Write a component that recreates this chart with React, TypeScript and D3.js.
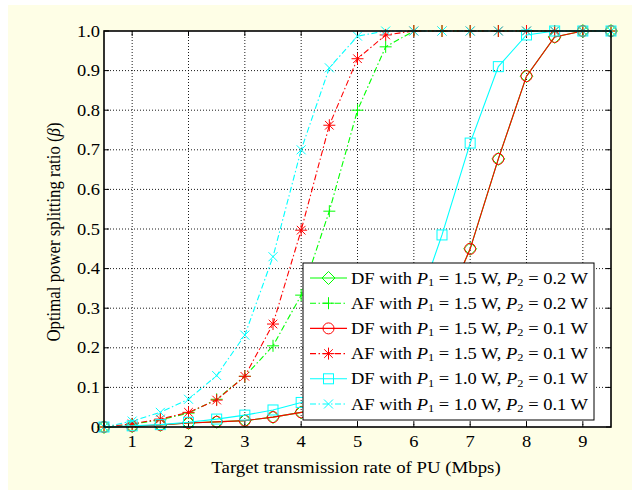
import React from "react";
import * as d3 from "d3";

// Target rate of the primary user (Mbps) at which beta was evaluated
const rates = [0.5, 1, 1.5, 2, 2.5, 3, 3.5, 4, 4.5, 5, 5.5, 6, 6.5, 7, 7.5, 8, 8.5, 9, 9.5];

// Optimal power splitting ratio for each scheme
const dfP15P02 = [0, 0.002, 0.005, 0.01, 0.013, 0.016, 0.025, 0.037, 0.05, 0.075, 0.11, 0.165, 0.285, 0.45, 0.677, 0.886, 0.985, 1, 1];
const afP15P02 = [0, 0.007, 0.018, 0.035, 0.07, 0.128, 0.205, 0.333, 0.545, 0.8, 0.96, 1, 1, 1, 1, 1, 1, 1, 1];
const dfP15P01 = [0, 0.002, 0.005, 0.01, 0.013, 0.016, 0.025, 0.037, 0.05, 0.075, 0.11, 0.165, 0.285, 0.45, 0.677, 0.886, 0.985, 1, 1];
const afP15P01 = [0, 0.008, 0.02, 0.037, 0.068, 0.128, 0.26, 0.497, 0.762, 0.93, 0.99, 1, 1, 1, 1, 1, 1, 1, 1];
const dfP10P01 = [0, 0.003, 0.006, 0.012, 0.02, 0.03, 0.043, 0.062, 0.09, 0.13, 0.19, 0.28, 0.485, 0.717, 0.91, 0.99, 1, 1, 1];
const afP10P01 = [0, 0.015, 0.037, 0.07, 0.13, 0.232, 0.43, 0.7, 0.907, 0.987, 1, 1, 1, 1, 1, 1, 1, 1, 1];

const xTicks = [1, 2, 3, 4, 5, 6, 7, 8, 9];
const yTicks = [0, 0.1, 0.2, 0.3, 0.4, 0.5, 0.6, 0.7, 0.8, 0.9, 1.0];

type Marker = "diamond" | "plus" | "circle" | "star" | "square" | "cross";

interface Series {
  scheme: string;
  p1: string;
  p2: string;
  values: number[];
  color: string;
  dashed: boolean;
  marker: Marker;
}

const series: Series[] = [
  { scheme: "DF", p1: "1.5", p2: "0.2", values: dfP15P02, color: "#00ff00", dashed: false, marker: "diamond" },
  { scheme: "AF", p1: "1.5", p2: "0.2", values: afP15P02, color: "#00ff00", dashed: true, marker: "plus" },
  { scheme: "DF", p1: "1.5", p2: "0.1", values: dfP15P01, color: "#ff0000", dashed: false, marker: "circle" },
  { scheme: "AF", p1: "1.5", p2: "0.1", values: afP15P01, color: "#ff0000", dashed: true, marker: "star" },
  { scheme: "DF", p1: "1.0", p2: "0.1", values: dfP10P01, color: "#00ffff", dashed: false, marker: "square" },
  { scheme: "AF", p1: "1.0", p2: "0.1", values: afP10P01, color: "#00ffff", dashed: true, marker: "cross" },
];

const W = 632;
const H = 490;
const plot = { left: 104, right: 611, top: 31, bottom: 427 };
const font = "'Liberation Serif', 'Times New Roman', serif";
const dashDot = "6,2.5,1.5,2.5";
// glyphs in this figure are a little wider than the typeface's natural proportions
const stretch = 1.12;

function MarkerGlyph({ kind, x, y, color }: { kind: Marker; x: number; y: number; color: string }) {
  const common = { fill: "none", stroke: color, strokeWidth: 1 };
  switch (kind) {
    case "diamond":
      return <path d={`M${x},${y - 6.5}L${x + 6.5},${y}L${x},${y + 6.5}L${x - 6.5},${y}Z`} {...common} />;
    case "circle":
      return <circle cx={x} cy={y} r={5.5} {...common} />;
    case "square":
      return <rect x={x - 5} y={y - 5} width={10} height={10} {...common} />;
    case "plus":
      return <path d={`M${x - 6},${y}H${x + 6}M${x},${y - 6}V${y + 6}`} {...common} />;
    case "cross":
      return <path d={`M${x - 4.5},${y - 4.5}L${x + 4.5},${y + 4.5}M${x - 4.5},${y + 4.5}L${x + 4.5},${y - 4.5}`} {...common} />;
    case "star":
      return (
        <path
          d={`M${x - 6},${y}H${x + 6}M${x},${y - 6}V${y + 6}M${x - 4.3},${y - 4.3}L${x + 4.3},${y + 4.3}M${x - 4.3},${y + 4.3}L${x + 4.3},${y - 4.3}`}
          {...common}
        />
      );
  }
}

function LegendLabel({ s, x, y }: { s: Series; x: number; y: number }) {
  return (
    <text
      transform={`translate(${x},${y}) scale(${stretch},1)`}
      fontFamily={font}
      fontSize={16.5}
      fill="#000"
      dominantBaseline="central"
    >
      <tspan>{s.scheme} with </tspan>
      <tspan fontStyle="italic">P</tspan>
      <tspan fontSize={11} dy={4}>1</tspan>
      <tspan dy={-4}> = {s.p1} W, </tspan>
      <tspan fontStyle="italic">P</tspan>
      <tspan fontSize={11} dy={4}>2</tspan>
      <tspan dy={-4}> = {s.p2} W</tspan>
    </text>
  );
}

export default function App() {
  const x = d3.scaleLinear().domain([0.5, 9.5]).range([plot.left, plot.right]);
  const y = d3.scaleLinear().domain([0, 1]).range([plot.bottom, plot.top]);

  const line = d3
    .line<number>()
    .x((_, i) => x(rates[i]))
    .y((v) => y(v));

  const legend = { left: 303, top: 263, right: 594, bottom: 420 };
  const rowH = 25.2;
  const row0 = 278;

  return (
    <div style={{ position: "absolute", left: 0, top: 0 }}>
      <svg width={W} height={H} style={{ display: "block" }}>
        <rect x={0} y={0} width={W} height={H} fill="#ffffff" />
        <rect x={8} y={5} width={W - 8} height={H - 5} fill="#fefee6" />
        <rect x={plot.left} y={plot.top} width={plot.right - plot.left} height={plot.bottom - plot.top} fill="#ffffff" />

        {/* dotted grid */}
        <g stroke="#000" strokeWidth={0.9} strokeDasharray="1,2">
          {xTicks.map((t) => (
            <line key={`gx${t}`} x1={x(t)} x2={x(t)} y1={plot.top} y2={plot.bottom} />
          ))}
          {yTicks.slice(1, -1).map((t) => (
            <line key={`gy${t}`} x1={plot.left} x2={plot.right} y1={y(t)} y2={y(t)} />
          ))}
        </g>

        {/* inward ticks on all four sides */}
        <g stroke="#000" strokeWidth={1}>
          {xTicks.map((t) => (
            <g key={`tx${t}`}>
              <line x1={x(t)} x2={x(t)} y1={plot.bottom} y2={plot.bottom - 5} />
              <line x1={x(t)} x2={x(t)} y1={plot.top} y2={plot.top + 5} />
            </g>
          ))}
          {yTicks.map((t) => (
            <g key={`ty${t}`}>
              <line x1={plot.left} x2={plot.left + 5} y1={y(t)} y2={y(t)} />
              <line x1={plot.right} x2={plot.right - 5} y1={y(t)} y2={y(t)} />
            </g>
          ))}
        </g>

        {/* curves */}
        {series.map((s, k) => (
          <g key={`s${k}`}>
            <path
              d={line(s.values) ?? ""}
              fill="none"
              stroke={s.color}
              strokeWidth={1.1}
              strokeDasharray={s.dashed ? dashDot : undefined}
            />
            {s.values.map((v, i) => (
              <MarkerGlyph key={i} kind={s.marker} x={x(rates[i])} y={y(v)} color={s.color} />
            ))}
          </g>
        ))}

        {/* frame */}
        <rect
          x={plot.left}
          y={plot.top}
          width={plot.right - plot.left}
          height={plot.bottom - plot.top}
          fill="none"
          stroke="#000"
          strokeWidth={1.6}
        />

        {/* tick labels */}
        <g fontFamily={font} fontSize={16.5} fill="#000">
          {xTicks.map((t) => (
            <text
              key={`lx${t}`}
              transform={`translate(${x(t)},${plot.bottom + 20}) scale(${stretch},1)`}
              textAnchor="middle"
            >
              {t}
            </text>
          ))}
          {yTicks.map((t) => (
            <text
              key={`ly${t}`}
              transform={`translate(${plot.left - 4},${y(t)}) scale(${stretch},1)`}
              textAnchor="end"
              dominantBaseline="central"
            >
              {t === 0 ? "0" : t.toFixed(1)}
            </text>
          ))}
        </g>

        {/* axis titles */}
        <text
          transform={`translate(356,473) scale(${stretch},1)`}
          textAnchor="middle"
          fontFamily={font}
          fontSize={16.8}
          fill="#000"
        >
          Target transmission rate of PU (Mbps)
        </text>
        <text
          transform={`translate(60,232) scale(${stretch},1) rotate(-90)`}
          textAnchor="middle"
          fontFamily={font}
          fontSize={16.8}
          fill="#000"
        >
          Optimal power splitting ratio (<tspan fontStyle="italic">β</tspan>)
        </text>

        {/* legend */}
        <rect
          x={legend.left}
          y={legend.top}
          width={legend.right - legend.left}
          height={legend.bottom - legend.top}
          fill="#ffffff"
          stroke="#000"
          strokeWidth={1}
        />
        {series.map((s, k) => {
          const cy = row0 + k * rowH;
          return (
            <g key={`lg${k}`}>
              <line
                x1={310}
                x2={347}
                y1={cy}
                y2={cy}
                stroke={s.color}
                strokeWidth={1.1}
                strokeDasharray={s.dashed ? dashDot : undefined}
              />
              <MarkerGlyph kind={s.marker} x={328.5} y={cy} color={s.color} />
              <LegendLabel s={s} x={351} y={cy} />
            </g>
          );
        })}
      </svg>
    </div>
  );
}
